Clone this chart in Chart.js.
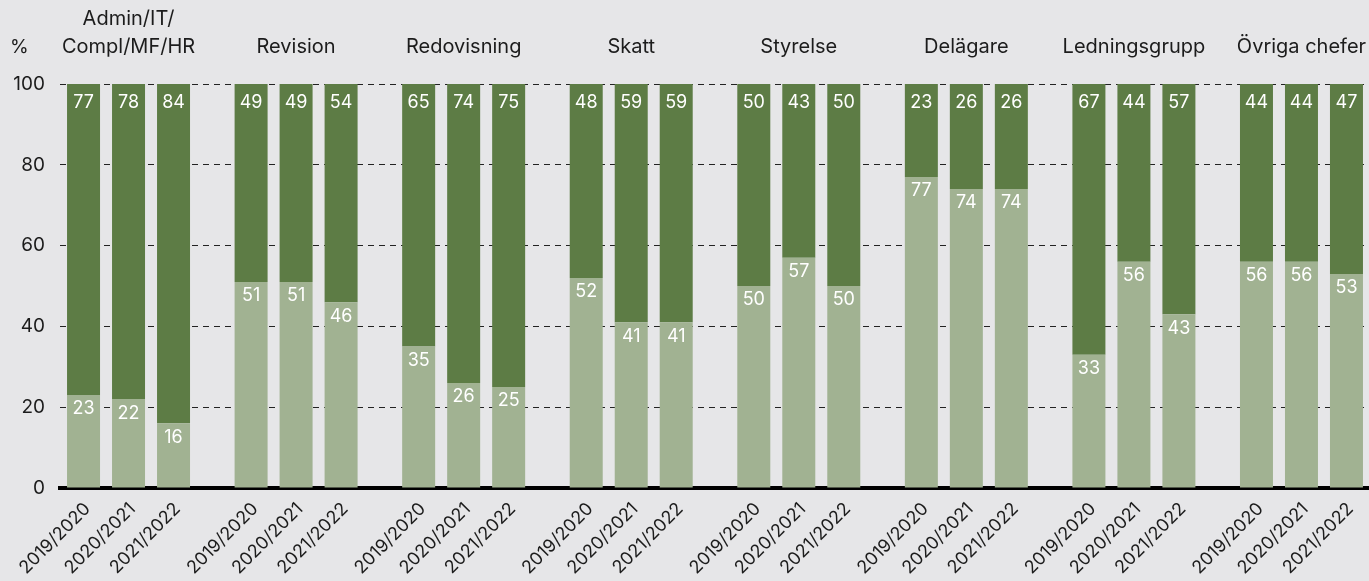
<!DOCTYPE html>
<html>
<head>
<meta charset="utf-8">
<script src="https://cdn.jsdelivr.net/npm/chart.js@4"></script>
<style>
  html,body{margin:0;padding:0;background:#e6e6e8;overflow:hidden;}
  #wrap{width:1369px;height:581px;position:relative;}
</style>
</head>
<body>
<div id="wrap"><canvas id="chart"></canvas></div>
<script>
const groups = ['Admin/IT/\nCompl/MF/HR','Revision','Redovisning','Skatt','Styrelse','Delägare','Ledningsgrupp','Övriga chefer'];
const years = ['2019/2020','2020/2021','2021/2022'];
// light (bottom) share per year
const light1920 = [23,51,35,52,50,77,33,56];
const light2021 = [22,51,26,41,57,74,56,56];
const light2122 = [16,46,25,41,50,74,43,53];
// dark (top) share per year
const dark1920 = [77,49,65,48,50,23,67,44];
const dark2021 = [78,49,74,59,43,26,44,44];
const dark2122 = [84,54,75,59,50,26,57,47];
const yTicks = [0,20,40,60,80,100];

const LIGHT='#a1b292', DARK='#5d7c45', INK='#1c1c1c';
const FONT='Inter, "Noto Sans", sans-serif';
const X_MIN=-0.409, X_MAX=7.403;

const lights=[light1920,light2021,light2122];
const darks=[dark1920,dark2021,dark2122];
const datasets=[];
years.forEach((y,i)=>{
  datasets.push({label:y+' a',data:lights[i],backgroundColor:LIGHT,stack:'s'+i,kind:'light',year:y});
  datasets.push({label:y+' b',data:darks[i],backgroundColor:DARK,stack:'s'+i,kind:'dark',year:y});
});

const noPad=s=>{s.paddingLeft=0;s.paddingRight=0;};

const labelPlugin={
  id:'labels',
  afterDatasetsDraw(chart){
    const ctx=chart.ctx, area=chart.chartArea;
    ctx.save();
    ctx.font='18px '+FONT;
    ctx.fillStyle='#ffffff';
    ctx.textAlign='center';
    ctx.textBaseline='middle';
    chart.data.datasets.forEach((ds,di)=>{
      const meta=chart.getDatasetMeta(di);
      meta.data.forEach((el,j)=>{
        const off = ds.kind==='dark' ? 19 : 14;
        ctx.fillText(String(ds.data[j]), el.x, el.y+off);
      });
    });
    // year labels under each bar
    ctx.fillStyle=INK;
    ctx.font='18px '+FONT;
    ctx.textAlign='right';
    ctx.textBaseline='middle';
    chart.data.datasets.forEach((ds,di)=>{
      if(ds.kind!=='light') return;
      const meta=chart.getDatasetMeta(di);
      meta.data.forEach(el=>{
        ctx.save();
        ctx.translate(el.x+4, area.bottom+18);
        ctx.rotate(-Math.PI/4);
        ctx.fillText(ds.year,0,0);
        ctx.restore();
      });
    });
    // percent sign
    ctx.font='19px '+FONT;
    ctx.textAlign='left';
    ctx.fillText('%', 10, area.top-37);
    ctx.restore();
  }
};

new Chart(document.getElementById('chart'),{
  type:'bar',
  data:{labels:groups.map((g,i)=>i),datasets},
  plugins:[labelPlugin],
  options:{
    responsive:true,
    maintainAspectRatio:false,
    animation:false,
    events:[],
    categoryPercentage:0.8056,
    barPercentage:0.7333,
    layout:{padding:{top:5,left:0,right:0,bottom:93}},
    plugins:{legend:{display:false},tooltip:{enabled:false}},
    scales:{
      x:{
        type:'linear',position:'bottom',stacked:true,offset:false,min:X_MIN,max:X_MAX,
        afterBuildTicks:s=>{s.ticks=groups.map((g,i)=>({value:i}));},
        afterFit:s=>{s.height=0;noPad(s);},
        ticks:{display:false},
        grid:{display:false,drawTicks:false,offset:false},
        border:{display:true,color:'#000',width:4}
      },
      top:{
        type:'linear',position:'top',offset:false,min:X_MIN,max:X_MAX,
        afterBuildTicks:s=>{s.ticks=groups.map((g,i)=>({value:i}));},
        afterFit:s=>{s.height=79;noPad(s);},
        ticks:{
          autoSkip:false,maxRotation:0,minRotation:0,padding:23,color:INK,
          font:{family:FONT,size:20,lineHeight:1.4},
          callback:v=>groups[v]!==undefined?groups[v].split('\n'):''
        },
        grid:{display:false,drawTicks:false},
        border:{display:false}
      },
      y:{
        stacked:true,min:0,max:100,
        afterBuildTicks:s=>{s.ticks=yTicks.map(v=>({value:v}));},
        afterFit:s=>{s.width=60;},
        ticks:{padding:15,color:INK,font:{family:FONT,size:19}},
        grid:{drawTicks:false,lineWidth:1,color:c=>c.tick&&c.tick.value===0?'rgba(0,0,0,0)':'#222'},
        border:{display:false,dash:[6,5]}
      }
    }
  }
});
</script>
</body>
</html>
